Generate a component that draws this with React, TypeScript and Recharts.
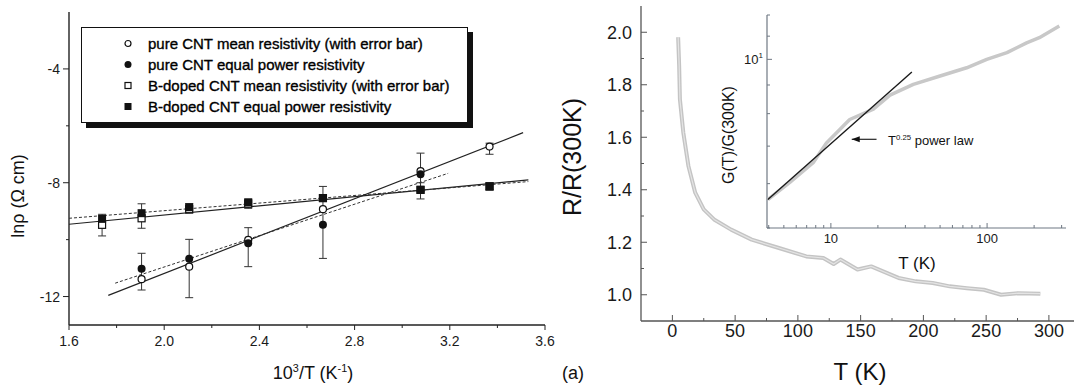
import React from "react";
import { ScatterChart, Scatter, XAxis, YAxis, ErrorBar } from "recharts";

const FONT = "'Liberation Sans', Arial, Helvetica, sans-serif";

// ---------- left panel: ln(rho) vs 1000/T ----------
const pureX = [1.905, 2.105, 2.353, 2.667, 3.077, 3.367];
const pureMean = [-11.39, -10.95, -10.01, -8.93, -7.59, -6.73];
const pureErrDown = [0.38, 1.09, 0.94, 1.73, 0.71, 0.27];
const pureErrUp = [0.91, 0.96, 0.43, 0.8, 0.63, 0.12];

const pureEqX = [1.905, 2.105, 2.353, 2.667, 3.077];
const pureEqual = [-11.02, -10.67, -10.13, -9.48, -7.7];

const bX = [1.739, 1.905, 2.105, 2.353, 2.667, 3.077, 3.367];
const bMean = [-9.48, -9.25, -8.93, -8.74, -8.54, -8.25, -8.13];
const bErrDown = [0.39, 0.35, 0.14, 0.16, 0.12, 0.32, 0.12];
const bErrUp = [0.37, 0.51, 0.19, 0.16, 0.11, 0.25, 0.13];
const bEqual = [-9.27, -9.07, -8.86, -8.69, -8.54, -8.25, -8.13];

// linear fits (end points)
const pureFitX = [1.765, 3.508];
const pureFitY = [-11.96, -6.24];
const pureEqFitX = [1.794, 3.193];
const pureEqFitY = [-11.53, -7.67];
const bFitX = [1.6, 3.53];
const bFitY = [-9.46, -7.9];
const bEqFitX = [1.6, 3.53];
const bEqFitY = [-9.25, -7.96];

const leftXMajor = [1.6, 2.0, 2.4, 2.8, 3.2, 3.6];
const leftXMinor = [1.8, 2.2, 2.6, 3.0, 3.4];
const leftYMajor = [-12, -8, -4];
const leftYMinor = [-10, -6];

const legendLabels = [
  "pure CNT mean resistivity (with error bar)",
  "pure CNT equal power resistivity",
  "B-doped CNT mean resistivity (with error bar)",
  "B-doped CNT equal power resistivity",
];

// ---------- right panel: R/R(300K) vs T ----------
const tempK = [4.6, 5.4, 6.0, 8.7, 12.8, 18.2, 25, 33.2, 46.8, 63.2, 84.9, 106.7, 120.3, 128.5, 133.9, 147.5, 158.4, 180.2, 193.8, 207.4, 221, 234.6, 248.2, 261.9, 275.5, 293.2];
const rRatio = [1.981, 1.873, 1.745, 1.618, 1.49, 1.389, 1.325, 1.287, 1.248, 1.21, 1.178, 1.146, 1.14, 1.117, 1.134, 1.096, 1.108, 1.064, 1.051, 1.045, 1.032, 1.025, 1.019, 1.0, 1.006, 1.004];

const rightXMajor = [0, 50, 100, 150, 200, 250, 300];
const rightXMinor = [25, 75, 125, 175, 225, 275];
const rightYMajor = [1.0, 1.2, 1.4, 1.6, 1.8, 2.0];
const rightYMinor = [1.1, 1.3, 1.5, 1.7, 1.9];

// ---------- inset: G(T)/G(300K) log-log ----------
const insetT = [3.95, 5.46, 7.7, 9.37, 13.2, 18.7, 23.9, 33.7, 50, 74, 99.5, 134, 179, 216, 290];
const insetG = [5.62, 6.03, 6.54, 7.09, 7.81, 8.15, 8.63, 9.02, 9.34, 9.66, 10.0, 10.28, 10.7, 10.93, 11.47];
const fitT = [3.95, 33];
const fitG = [5.62, 9.49];
const arrowT = [19.6, 13.6];
const arrowG = [7.2, 7.2];

const insetXMajor = [10, 100];
const insetXMinor = [4, 5, 6, 7, 8, 9, 20, 30, 40, 50, 60, 70, 80, 90, 200, 300];
const insetYMajor = [10];
const insetYMinor = [5, 6, 7, 8, 9, 11, 12];

const zip = (xs: number[], ys: number[]) => xs.map((x, i) => ({ x, y: ys[i] }));
const sorted = (a: number[], b: number[]) => [...a, ...b].sort((p, q) => p - q);

type Side = "bottom" | "top" | "left" | "right";
interface TickOpts {
  side: Side;
  gap: number;
  inward: boolean;
  major: number[];
  majorLen: number;
  minorLen: number;
  stroke: string;
  fontSize?: number;
  label?: (v: number) => React.ReactNode;
}

const makeTick = (o: TickOpts) => (props: any) => {
  const { x, y, payload } = props;
  const v = payload.value as number;
  const isMajor = o.major.some((m) => Math.abs(m - v) < 1e-9);
  const len = isMajor ? o.majorLen : o.minorLen;
  const dir = o.inward ? -1 : 1;
  const lab = isMajor && o.label ? o.label(v) : null;
  const txt = { fontSize: o.fontSize, fontFamily: FONT, fill: "#1a1a1a" };
  let line: React.ReactNode = null;
  let text: React.ReactNode = null;
  if (o.side === "bottom") {
    const ay = y - o.gap;
    line = <line x1={x} x2={x} y1={ay} y2={ay + dir * len} stroke={o.stroke} />;
    if (lab != null) text = <text x={x} y={y} dy="0.71em" textAnchor="middle" {...txt}>{lab}</text>;
  } else if (o.side === "top") {
    const ay = y + o.gap;
    line = <line x1={x} x2={x} y1={ay} y2={ay - dir * len} stroke={o.stroke} />;
  } else if (o.side === "left") {
    const ax = x + o.gap;
    line = <line x1={ax} x2={ax - dir * len} y1={y} y2={y} stroke={o.stroke} />;
    if (lab != null) text = <text x={x} y={y} dy="0.355em" textAnchor="end" {...txt}>{lab}</text>;
  } else {
    const ax = x - o.gap;
    line = <line x1={ax} x2={ax + dir * len} y1={y} y2={y} stroke={o.stroke} />;
  }
  return (
    <g>
      {line}
      {text}
    </g>
  );
};

const OpenCircle = (p: any) => <circle cx={p.cx} cy={p.cy} r={3.5} fill="#fff" stroke="#111" strokeWidth={1.2} />;
const FilledCircle = (p: any) => <circle cx={p.cx} cy={p.cy} r={4} fill="#111" />;
const OpenSquare = (p: any) => <rect x={p.cx - 3.5} y={p.cy - 3.5} width={7} height={7} fill="#fff" stroke="#111" strokeWidth={1.2} />;
const FilledSquare = (p: any) => <rect x={p.cx - 4} y={p.cy - 4} width={8} height={8} fill="#111" />;
const NoDot = () => <g />;
const ArrowHead = (p: any) =>
  p.payload && p.payload.tip ? (
    <polygon points={`${p.cx},${p.cy} ${p.cx + 8},${p.cy - 3} ${p.cx + 8},${p.cy + 3}`} fill="#111" />
  ) : (
    <g />
  );

const LegendMarker = ({ i }: { i: number }) => (
  <svg width={10} height={10} style={{ display: "block" }}>
    {i === 0 && <circle cx={5} cy={5} r={3} fill="#fff" stroke="#111" strokeWidth={1.2} />}
    {i === 1 && <circle cx={5} cy={5} r={3.5} fill="#111" />}
    {i === 2 && <rect x={2} y={2} width={6} height={6} fill="#fff" stroke="#111" strokeWidth={1.2} />}
    {i === 3 && <rect x={1.5} y={1.5} width={7} height={7} fill="#111" />}
  </svg>
);

const Title = ({ x, y, size, rotate, left, children }: any) => (
  <div
    style={{
      position: "absolute",
      left: x,
      top: y,
      transform: `translate(${left ? "0" : "-50%"},-50%)${rotate ? " rotate(-90deg)" : ""}`,
      fontSize: size,
      lineHeight: 1,
      whiteSpace: "nowrap",
      color: "#111",
    }}
  >
    {children}
  </div>
);

const Sup = ({ children }: any) => (
  <span style={{ fontSize: "0.6em", position: "relative", top: "-0.65em" }}>{children}</span>
);

export default function App() {
  const pureMeanData = pureX.map((x, i) => ({ x, y: pureMean[i], err: [pureErrDown[i], pureErrUp[i]] }));
  const bMeanData = bX.map((x, i) => ({ x, y: bMean[i], err: [bErrDown[i], bErrUp[i]] }));

  const leftXTick = makeTick({ side: "bottom", gap: 11, inward: false, major: leftXMajor, majorLen: 5, minorLen: 3, stroke: "#222", fontSize: 14, label: (v) => v.toFixed(1) });
  const leftYTick = makeTick({ side: "left", gap: 9, inward: false, major: leftYMajor, majorLen: 6, minorLen: 3, stroke: "#222", fontSize: 14, label: (v) => String(v) });

  const rStroke = "#555";
  const rXTick = makeTick({ side: "bottom", gap: 3, inward: true, major: rightXMajor, majorLen: 6, minorLen: 3, stroke: rStroke, fontSize: 18, label: (v) => String(v) });
  const rXTopTick = makeTick({ side: "top", gap: 0, inward: true, major: rightXMajor, majorLen: 6, minorLen: 3, stroke: rStroke });
  const rYTick = makeTick({ side: "left", gap: 9, inward: true, major: rightYMajor, majorLen: 6, minorLen: 3, stroke: rStroke, fontSize: 18, label: (v) => v.toFixed(1) });
  const rYRightTick = makeTick({ side: "right", gap: 0, inward: true, major: rightYMajor, majorLen: 6, minorLen: 3, stroke: rStroke });

  const iStroke = "#6f7883";
  const iXTick = makeTick({ side: "bottom", gap: 6, inward: true, major: insetXMajor, majorLen: 5, minorLen: 3, stroke: iStroke, fontSize: 13, label: (v) => String(v) });
  const iXTopTick = makeTick({ side: "top", gap: 0, inward: true, major: insetXMajor, majorLen: 5, minorLen: 3, stroke: iStroke });
  const iYTick = makeTick({
    side: "left",
    gap: 4,
    inward: true,
    major: insetYMajor,
    majorLen: 5,
    minorLen: 3,
    stroke: iStroke,
    fontSize: 13,
    label: () => (
      <>
        <tspan>10</tspan>
        <tspan dy={-6} fontSize={8}>1</tspan>
      </>
    ),
  });
  const iYRightTick = makeTick({ side: "right", gap: 0, inward: true, major: insetYMajor, majorLen: 5, minorLen: 3, stroke: iStroke });

  return (
    <div style={{ position: "absolute", left: 0, top: 0, width: 1075, height: 392, background: "#fff", overflow: "hidden", fontFamily: FONT }}>
      {/* left panel */}
      <div style={{ position: "absolute", left: 0, top: 0 }}>
        <ScatterChart width={560} height={392} margin={{ top: 12, right: 15, bottom: 37, left: 19 }}>
          <XAxis type="number" dataKey="x" domain={[1.6, 3.6]} ticks={sorted(leftXMajor, leftXMinor)} interval={0} allowDataOverflow height={30} tickSize={0} tickMargin={11} tickLine={false} tick={leftXTick} axisLine={{ stroke: "#222", strokeWidth: 1.4 }} />
          <XAxis xAxisId="top" orientation="top" type="number" domain={[1.6, 3.6]} height={0} tick={false} tickLine={false} allowDataOverflow axisLine={{ stroke: "#bbb", strokeWidth: 1 }} />
          <YAxis type="number" dataKey="y" domain={[-13, -2]} ticks={sorted(leftYMajor, leftYMinor)} interval={0} allowDataOverflow width={50} tickSize={0} tickMargin={9} tickLine={false} tick={leftYTick} axisLine={{ stroke: "#222", strokeWidth: 1.4 }} />
          <YAxis yAxisId="right" orientation="right" type="number" domain={[-13, -2]} width={0} tick={false} tickLine={false} allowDataOverflow axisLine={{ stroke: "#555", strokeWidth: 1 }} />

          <Scatter data={zip(bFitX, bFitY)} shape={NoDot} line={{ stroke: "#222", strokeWidth: 1.2 }} isAnimationActive={false} />
          <Scatter data={zip(bEqFitX, bEqFitY)} shape={NoDot} line={{ stroke: "#333", strokeWidth: 1, strokeDasharray: "3 2" }} isAnimationActive={false} />
          <Scatter data={zip(pureFitX, pureFitY)} shape={NoDot} line={{ stroke: "#222", strokeWidth: 1.2 }} isAnimationActive={false} />
          <Scatter data={zip(pureEqFitX, pureEqFitY)} shape={NoDot} line={{ stroke: "#333", strokeWidth: 1, strokeDasharray: "3 2" }} isAnimationActive={false} />

          <Scatter data={bMeanData} shape={OpenSquare} isAnimationActive={false}>
            <ErrorBar dataKey="err" direction="y" width={4} stroke="#333" strokeWidth={1} />
          </Scatter>
          <Scatter data={pureMeanData} shape={OpenCircle} isAnimationActive={false}>
            <ErrorBar dataKey="err" direction="y" width={4} stroke="#333" strokeWidth={1} />
          </Scatter>
          <Scatter data={zip(bX, bEqual)} shape={FilledSquare} isAnimationActive={false} />
          <Scatter data={zip(pureEqX, pureEqual)} shape={FilledCircle} isAnimationActive={false} />
        </ScatterChart>
      </div>

      {/* legend box */}
      <div style={{ position: "absolute", left: 81, top: 27, width: 385, height: 94, border: "1.5px solid #111", boxShadow: "5px 5px 0 #111", background: "#fff" }}>
        {legendLabels.map((lab, i) => (
          <div key={lab} style={{ position: "absolute", left: 0, top: 15 + i * 21, transform: "translateY(-50%)", display: "flex", alignItems: "center" }}>
            <div style={{ width: 10, marginLeft: 41 }}>
              <LegendMarker i={i} />
            </div>
            <span style={{ marginLeft: 15, fontSize: 15, color: "#000", WebkitTextStroke: "0.35px #000", whiteSpace: "nowrap", lineHeight: 1 }}>{lab}</span>
          </div>
        ))}
      </div>

      <Title x={18} y={196} size={18} rotate>
        lnρ (Ω cm)
      </Title>
      <Title x={313} y={373} size={18}>
        10<Sup>3</Sup>/T (K<Sup>-1</Sup>)
      </Title>
      <Title x={573} y={373} size={18}>
        (a)
      </Title>

      {/* right panel */}
      <div style={{ position: "absolute", left: 560, top: 0 }}>
        <ScatterChart width={515} height={392} margin={{ top: 6, right: 1, bottom: 31, left: 21 }}>
          <XAxis type="number" dataKey="x" domain={[-25, 320]} ticks={sorted(rightXMajor, rightXMinor)} interval={0} allowDataOverflow height={40} tickSize={0} tickMargin={3} tickLine={false} tick={rXTick} axisLine={{ stroke: rStroke, strokeWidth: 1.3 }} />
          <XAxis xAxisId="top" orientation="top" type="number" domain={[-25, 320]} ticks={sorted(rightXMajor, rightXMinor)} interval={0} allowDataOverflow height={0} tickSize={0} tickMargin={0} tickLine={false} tick={rXTopTick} axisLine={{ stroke: rStroke, strokeWidth: 1.3 }} />
          <YAxis type="number" dataKey="y" domain={[0.9, 2.1]} ticks={sorted(rightYMajor, rightYMinor)} interval={0} allowDataOverflow width={60} tickSize={0} tickMargin={9} tickLine={false} tick={rYTick} axisLine={{ stroke: rStroke, strokeWidth: 1.3 }} />
          <YAxis yAxisId="right" orientation="right" type="number" domain={[0.9, 2.1]} ticks={sorted(rightYMajor, rightYMinor)} interval={0} allowDataOverflow width={0} tickSize={0} tickMargin={0} tickLine={false} tick={rYRightTick} axisLine={{ stroke: rStroke, strokeWidth: 1.3 }} />
          <Scatter data={zip(tempK, rRatio)} shape={NoDot} line={{ stroke: "#c4c4c4", strokeWidth: 4, strokeLinejoin: "round" }} isAnimationActive={false} />
          <Scatter data={zip(tempK, rRatio)} shape={NoDot} line={{ stroke: "#e4e4e4", strokeWidth: 1.2, strokeLinejoin: "round" }} isAnimationActive={false} />
        </ScatterChart>
      </div>

      <Title x={572} y={157} size={25} rotate>
        R/R(300K)
      </Title>
      <Title x={860} y={372} size={24}>
        T (K)
      </Title>

      {/* inset */}
      <div style={{ position: "absolute", left: 767, top: 15, width: 299, height: 213, background: "#fff" }} />
      <div style={{ position: "absolute", left: 700, top: 0 }}>
        <ScatterChart width={375} height={270} margin={{ top: 15, right: 9, bottom: 17, left: 27 }}>
          <XAxis type="number" scale="log" dataKey="x" domain={[3.9, 320]} ticks={sorted(insetXMajor, insetXMinor)} interval={0} allowDataOverflow height={25} tickSize={0} tickMargin={6} tickLine={false} tick={iXTick} axisLine={{ stroke: iStroke, strokeWidth: 1.2 }} />
          <XAxis xAxisId="top" orientation="top" type="number" scale="log" domain={[3.9, 320]} ticks={sorted(insetXMajor, insetXMinor)} interval={0} allowDataOverflow height={0} tickSize={0} tickMargin={0} tickLine={false} tick={iXTopTick} axisLine={{ stroke: iStroke, strokeWidth: 1.2 }} />
          <YAxis type="number" scale="log" dataKey="y" domain={[5, 12]} ticks={sorted(insetYMajor, insetYMinor)} interval={0} allowDataOverflow width={40} tickSize={0} tickMargin={4} tickLine={false} tick={iYTick} axisLine={{ stroke: iStroke, strokeWidth: 1.2 }} />
          <YAxis yAxisId="right" orientation="right" type="number" scale="log" domain={[5, 12]} ticks={sorted(insetYMajor, insetYMinor)} interval={0} allowDataOverflow width={0} tickSize={0} tickMargin={0} tickLine={false} tick={iYRightTick} axisLine={{ stroke: iStroke, strokeWidth: 1.2 }} />
          <Scatter data={zip(insetT, insetG)} shape={NoDot} line={{ stroke: "#c8c8c8", strokeWidth: 3.5, strokeLinejoin: "round" }} isAnimationActive={false} />
          <Scatter data={zip(fitT, fitG)} shape={NoDot} line={{ stroke: "#1a1a1a", strokeWidth: 1.4 }} isAnimationActive={false} />
          <Scatter data={arrowT.map((x, i) => ({ x, y: arrowG[i], tip: i === 1 }))} shape={ArrowHead} line={{ stroke: "#111", strokeWidth: 1.1 }} isAnimationActive={false} />
        </ScatterChart>
      </div>

      <Title x={729} y={135} size={16} rotate>
        G(T)/G(300K)
      </Title>
      <Title x={917} y={263} size={17}>
        T (K)
      </Title>
      <Title x={888} y={140} size={13} left>
        T<Sup>0.25</Sup> power law
      </Title>
    </div>
  );
}
